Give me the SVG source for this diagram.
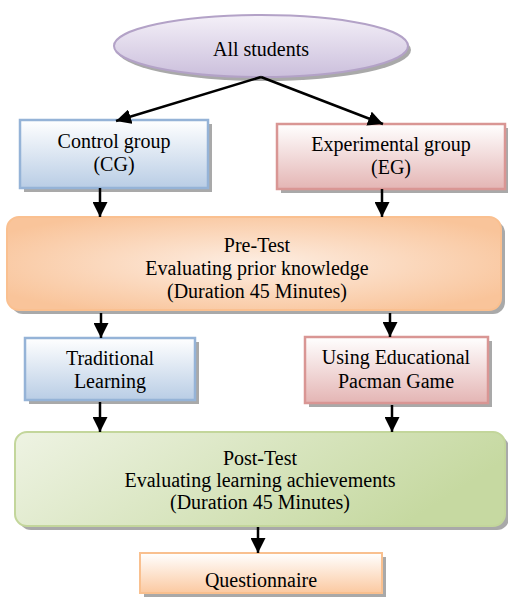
<svg xmlns="http://www.w3.org/2000/svg" width="508" height="599" viewBox="0 0 508 599">
<defs>
<linearGradient id="gPurple" x1="0" y1="0" x2="0" y2="1"><stop offset="0" stop-color="#f4f0f8"/><stop offset="1" stop-color="#cbbfdc"/></linearGradient>
<linearGradient id="gBlue" x1="0" y1="0" x2="0" y2="1"><stop offset="0" stop-color="#ffffff"/><stop offset="1" stop-color="#b9cde5"/></linearGradient>
<linearGradient id="gRed" x1="0" y1="0" x2="0" y2="1"><stop offset="0" stop-color="#ffffff"/><stop offset="1" stop-color="#e4b5b4"/></linearGradient>
<radialGradient id="gOrange" cx="0.5" cy="0.5" r="0.6"><stop offset="0" stop-color="#fdeee3"/><stop offset="1" stop-color="#f9c49a"/></radialGradient>
<linearGradient id="gGreen" x1="0" y1="0" x2="1" y2="0.3"><stop offset="0" stop-color="#eef3e3"/><stop offset="1" stop-color="#c6d9a1"/></linearGradient>
<linearGradient id="gQ" x1="0" y1="0" x2="0" y2="1"><stop offset="0" stop-color="#ffffff"/><stop offset="1" stop-color="#fbc9a1"/></linearGradient>
<marker id="ah" viewBox="0 0 10 10" refX="10" refY="5" markerWidth="6" markerHeight="6" markerUnits="strokeWidth" orient="auto"><path d="M0,0 L10,5 L0,10 z" fill="#000"/></marker>
</defs>
<style>
text{font-family:"Liberation Serif","Times New Roman",serif;font-size:20px;fill:#000;text-anchor:middle}
.sh{fill:#6f6f6f;opacity:0.6}
.conn line{stroke:#000;stroke-width:2.5;marker-end:url(#ah)}
</style>
<g id="all-students">
<ellipse class="sh" cx="264" cy="50" rx="147" ry="31"/>
<ellipse cx="261" cy="46" rx="147" ry="31" fill="url(#gPurple)" stroke="#b3a2c7" stroke-width="2"/>
<text x="261" y="56">All students</text>
</g>
<g id="control-group">
<rect class="sh" x="24" y="124" width="188" height="68"/>
<rect x="20" y="120" width="188" height="68" fill="url(#gBlue)" stroke="#95b3d7" stroke-width="2.5"/>
<text x="114" y="148">Control group</text>
<text x="114" y="171">(CG)</text>
</g>
<g id="experimental-group">
<rect class="sh" x="281" y="128" width="228" height="65"/>
<rect x="277" y="124" width="228" height="65" fill="url(#gRed)" stroke="#d99694" stroke-width="2.5"/>
<text x="391" y="151">Experimental group</text>
<text x="391" y="174">(EG)</text>
</g>
<g id="pre-test">
<rect class="sh" x="11" y="221" width="494" height="93" rx="12"/>
<rect x="7" y="217" width="494" height="93" rx="12" fill="url(#gOrange)" stroke="#fac090" stroke-width="2"/>
<text x="257" y="252">Pre-Test</text>
<text x="257" y="275">Evaluating prior knowledge</text>
<text x="257" y="298">(Duration 45 Minutes)</text>
</g>
<g id="traditional-learning">
<rect class="sh" x="29" y="342" width="170" height="62"/>
<rect x="25" y="338" width="170" height="62" fill="url(#gBlue)" stroke="#95b3d7" stroke-width="2.5"/>
<text x="110" y="365">Traditional</text>
<text x="110" y="388">Learning</text>
</g>
<g id="pacman-game">
<rect class="sh" x="309" y="341" width="183" height="66"/>
<rect x="305" y="337" width="183" height="66" fill="url(#gRed)" stroke="#d99694" stroke-width="2.5"/>
<text x="396" y="364">Using Educational</text>
<text x="396" y="388">Pacman Game</text>
</g>
<g id="post-test">
<rect class="sh" x="19" y="436" width="490" height="94" rx="12"/>
<rect x="15" y="432" width="490" height="94" rx="12" fill="url(#gGreen)" stroke="#c3d69b" stroke-width="2"/>
<text x="260" y="465">Post-Test</text>
<text x="260" y="487">Evaluating learning achievements</text>
<text x="260" y="509">(Duration 45 Minutes)</text>
</g>
<g id="questionnaire">
<rect class="sh" x="144" y="557" width="242" height="40"/>
<rect x="140" y="553" width="242" height="40" fill="url(#gQ)" stroke="#f9c08f" stroke-width="2"/>
<text x="261" y="587">Questionnaire</text>
</g>
<g id="connectors" class="conn">
<line x1="261" y1="77" x2="116" y2="121"/>
<line x1="261" y1="77" x2="383" y2="124"/>
<line x1="100" y1="188" x2="100" y2="217"/>
<line x1="382" y1="189" x2="382" y2="217"/>
<line x1="101" y1="313" x2="101" y2="338"/>
<line x1="390" y1="313" x2="390" y2="337"/>
<line x1="100" y1="402" x2="100" y2="432"/>
<line x1="392" y1="405" x2="392" y2="432"/>
<line x1="258" y1="527" x2="258" y2="553"/>
</g>
</svg>
